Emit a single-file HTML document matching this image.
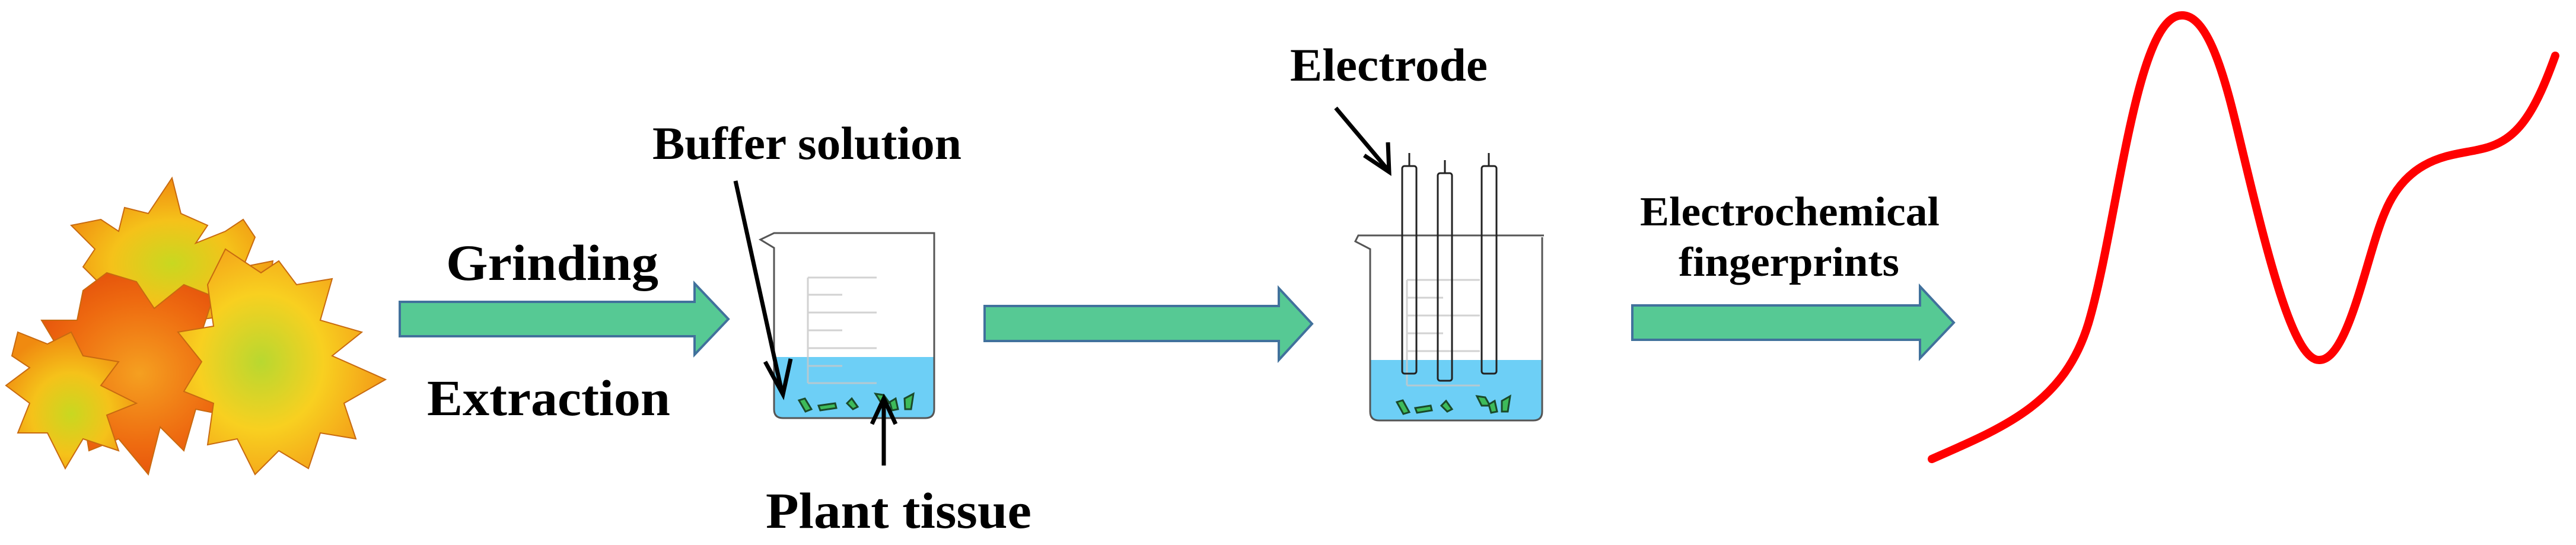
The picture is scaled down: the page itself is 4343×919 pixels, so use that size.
<!DOCTYPE html>
<html><head><meta charset="utf-8"><style>
html,body{margin:0;padding:0;background:#fff;}
svg{display:block;}
text{font-family:"Liberation Serif",serif;font-weight:bold;fill:#000;}
</style></head><body>
<svg width="4343" height="919" viewBox="0 0 4343 919" xmlns="http://www.w3.org/2000/svg">
<defs>
<radialGradient id="lf1" cx="50%" cy="60%" r="60%"><stop offset="0" stop-color="#c8d820"/><stop offset="0.5" stop-color="#f5c21a"/><stop offset="1" stop-color="#f08a10"/></radialGradient>
<radialGradient id="lf2" cx="50%" cy="50%" r="60%"><stop offset="0" stop-color="#f5a020"/><stop offset="0.6" stop-color="#ee6a10"/><stop offset="1" stop-color="#e24a0a"/></radialGradient>
<radialGradient id="lf3" cx="40%" cy="50%" r="60%"><stop offset="0" stop-color="#b8d830"/><stop offset="0.5" stop-color="#f8d020"/><stop offset="1" stop-color="#f39a18"/></radialGradient>
</defs>

<!-- leaves -->
<g stroke="#c86a10" stroke-width="2" stroke-linejoin="miter">
<polygon fill="url(#lf1)" points="290,300 305,360 350,380 330,410 380,390 410,370 430,400 410,450 460,440 450,500 400,530 330,540 250,520 180,490 140,450 160,420 120,380 170,370 200,390 210,350 250,360"/>
<polygon fill="url(#lf2)" points="180,460 230,475 260,520 310,480 360,500 340,560 390,580 370,620 420,640 380,700 330,690 310,760 270,720 250,800 200,740 150,760 140,700 80,700 100,650 50,620 100,590 70,540 130,540 140,490"/>
<polygon fill="url(#lf3)" points="380,420 440,460 470,440 500,480 560,470 540,540 610,560 560,600 650,640 580,680 600,740 540,730 520,790 470,760 430,800 400,740 350,750 360,680 310,660 340,610 300,560 360,550 350,480"/>
<polygon fill="url(#lf1)" points="30,560 80,580 120,560 140,600 200,610 170,650 230,680 180,700 200,760 140,740 110,790 80,730 30,730 50,680 10,650 50,620 20,600"/>
</g>

<!-- arrow 1 -->
<polygon points="674,509 1171,509 1171,478 1228,538 1171,598 1171,567 674,567" fill="#56C994" stroke="#41719C" stroke-width="4"/>
<text x="752" y="472" font-size="86" textLength="358" lengthAdjust="spacingAndGlyphs">Grinding</text>
<text x="720" y="700" font-size="86" textLength="410" lengthAdjust="spacingAndGlyphs">Extraction</text>

<!-- beaker 1 -->
<g>
<path d="M1305,602 L1575,602 L1575,690 Q1575,705 1560,705 L1320,705 Q1305,705 1305,690 Z" fill="#6DCFF6"/>
<g stroke="#c8c8c8" stroke-width="3" opacity="0.8"><line x1="1362" y1="468" x2="1362" y2="646"/><line x1="1362" y1="468" x2="1478" y2="468"/><line x1="1362" y1="497" x2="1420" y2="497"/><line x1="1362" y1="527" x2="1478" y2="527"/><line x1="1362" y1="557" x2="1420" y2="557"/><line x1="1362" y1="587" x2="1478" y2="587"/><line x1="1362" y1="617" x2="1420" y2="617"/><line x1="1362" y1="646" x2="1478" y2="646"/></g>
<path d="M1575,393 L1305,393 L1282,404 L1305,418 L1305,690 Q1305,705 1320,705 L1560,705 Q1575,705 1575,690 Z" fill="none" stroke="#555" stroke-width="3"/>
<g fill="#3dbb5a" stroke="#1a4a2a" stroke-width="3"><polygon points="1347,675 1357,672 1368,690 1358,694"/><polygon points="1380,684 1408,680 1410,688 1383,692"/><polygon points="1428,680 1436,672 1446,686 1438,690"/><polygon points="1476,664 1490,666 1500,680 1486,680"/><polygon points="1500,678 1510,672 1514,690 1504,692"/><polygon points="1525,672 1540,664 1536,690 1526,690"/></g>
</g>
<text x="1100" y="268" font-size="78" textLength="521" lengthAdjust="spacingAndGlyphs">Buffer solution</text>
<line x1="1240" y1="305" x2="1318" y2="660" stroke="#000" stroke-width="7"/>
<polyline points="1290,610 1320,665 1333,605" fill="none" stroke="#000" stroke-width="7"/>
<line x1="1490" y1="785" x2="1490" y2="680" stroke="#000" stroke-width="7"/>
<polyline points="1470,715 1490,672 1510,715" fill="none" stroke="#000" stroke-width="7"/>
<text x="1291" y="890" font-size="86" textLength="448" lengthAdjust="spacingAndGlyphs">Plant tissue</text>

<!-- arrow 2 -->
<polygon points="1660,516 2156,516 2156,486 2212,546 2156,607 2156,575 1660,575" fill="#56C994" stroke="#41719C" stroke-width="4"/>

<!-- beaker 2 -->
<g>
<path d="M2310,607 L2600,607 L2600,694 Q2600,709 2585,709 L2325,709 Q2310,709 2310,694 Z" fill="#6DCFF6"/>
<g stroke="#c8c8c8" stroke-width="3" opacity="0.8"><line x1="2372" y1="472" x2="2372" y2="650"/><line x1="2372" y1="472" x2="2495" y2="472"/><line x1="2372" y1="502" x2="2433" y2="502"/><line x1="2372" y1="532" x2="2495" y2="532"/><line x1="2372" y1="562" x2="2433" y2="562"/><line x1="2372" y1="592" x2="2495" y2="592"/><line x1="2372" y1="650" x2="2495" y2="650"/></g>
<path d="M2603,397 L2290,397 L2285,407 L2310,420 L2310,694 Q2310,709 2325,709 L2585,709 Q2600,709 2600,694 L2600,400" fill="none" stroke="#555" stroke-width="3"/>
<g fill="#3dbb5a" stroke="#1a4a2a" stroke-width="3"><polygon points="2355,678 2365,675 2376,695 2366,698"/><polygon points="2386,688 2412,684 2414,692 2389,696"/><polygon points="2430,684 2438,676 2448,690 2440,694"/><polygon points="2490,668 2504,670 2512,684 2498,684"/><polygon points="2510,682 2520,676 2524,694 2514,696"/><polygon points="2532,676 2546,668 2542,694 2532,694"/></g>
<g fill="none" stroke="#222" stroke-width="3">
<rect x="2364" y="280" width="24" height="350" rx="4"/><rect x="2424" y="292" width="24" height="350" rx="4"/><rect x="2498" y="280" width="25" height="350" rx="4"/>
<line x1="2376" y1="258" x2="2376" y2="280"/><line x1="2436" y1="270" x2="2436" y2="292"/><line x1="2510" y1="258" x2="2510" y2="280"/>
</g>
</g>
<text x="2175" y="136" font-size="78" textLength="333" lengthAdjust="spacingAndGlyphs">Electrode</text>
<line x1="2252" y1="182" x2="2338" y2="284" stroke="#000" stroke-width="7"/>
<polyline points="2300,262 2342,290 2340,240" fill="none" stroke="#000" stroke-width="7"/>

<!-- arrow 3 -->
<text x="2765" y="380" font-size="70" textLength="505" lengthAdjust="spacingAndGlyphs">Electrochemical</text>
<text x="2830" y="465" font-size="70" textLength="372" lengthAdjust="spacingAndGlyphs">fingerprints</text>
<polygon points="2752,515 3237,515 3237,483 3294,544 3237,604 3237,573 2752,573" fill="#56C994" stroke="#41719C" stroke-width="4"/>

<!-- curve -->
<path d="M3257,774 C3380,720 3480,680 3521,545 C3570,380 3600,30 3677,26 C3730,22 3760,170 3783,264 C3830,460 3870,610 3911,607 C3960,605 3990,430 4020,360 C4060,260 4140,262 4180,252 C4240,240 4270,200 4308,94" fill="none" stroke="#ff0000" stroke-width="14" stroke-linecap="round"/>
</svg>
</body></html>
